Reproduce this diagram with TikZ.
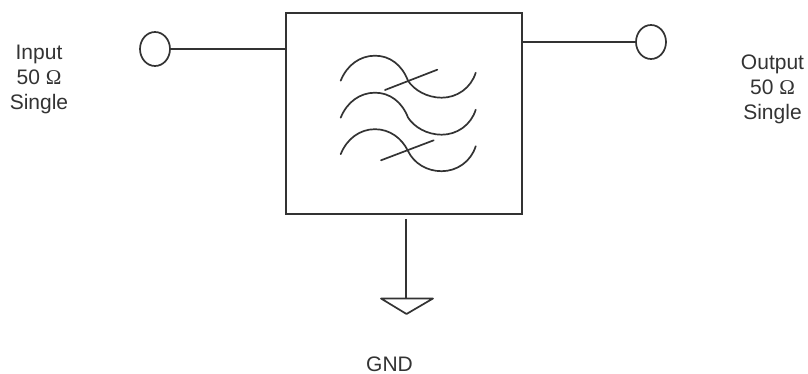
\documentclass[tikz,border=0pt]{standalone}
\usepackage{fontspec}
\setmainfont{Liberation Sans}
\newfontfamily\omegafont{Liberation Serif}
\usetikzlibrary{shapes.geometric}
\definecolor{ink}{HTML}{333333}
\tikzset{
  wire/.style={draw=ink,line width=1.7pt},
  port/.style={shape=ellipse,draw=ink,line width=1.7pt,minimum width=30pt,minimum height=34pt,inner sep=0pt},
  blockbox/.style={shape=rectangle,draw=ink,line width=1.7pt,minimum width=236pt,minimum height=201pt,inner sep=0pt},
  caption/.style={text=ink,align=center,font=\fontsize{21}{25}\selectfont,inner sep=0pt},
  wave/.style={draw=ink,line width=1.7pt,line cap=round}
}
\begin{document}
\begin{tikzpicture}[x=1pt,y=-1pt]
\useasboundingbox (0,0) rectangle (808,374);
\fill[white] (0,0) rectangle (808,374);
\node[blockbox] (filter) at (404,113.5) {};
\node[port] (in) at (155,49) {};
\node[port] (out) at (651,42) {};
\draw[wire] (in.east) -- (in.east -| filter.west);
\draw[wire] (out.west) -- (out.west -| filter.east);
\coordinate (gnd) at (406.3,298.5);
\draw[wire,shorten <=4pt] (filter.south -| gnd) -- (gnd);
\draw[wire,line join=round] (381,298.5) -- (433,298.5) -- (406.5,314) -- cycle;
\foreach \dy/\my in {0/80.7,37/117.5,73.5/151}{
  \draw[wave] (340.7,80.7+\dy) .. controls (347,65+\dy) and (360,55.7+\dy) .. (375,55.7+\dy)
    .. controls (390,55.7+\dy) and (402,65+\dy) .. (408,\my)
    .. controls (414,90+\dy) and (427,97.7+\dy) .. (441.7,97.7+\dy)
    .. controls (457,97.7+\dy) and (471,88+\dy) .. (475.7,72.7+\dy);
}
\draw[wave] (385,90) -- (437.3,69.7);
\draw[wave] (381,160.3) -- (433.7,140.3);
\node[caption] (inlabel) at (39,79.5) {Input\\50 {\omegafont Ω}\\Single};
\node[caption] (outlabel) at (772.5,89.5) {Output\\50 {\omegafont Ω}\\Single};
\node[caption] (gndlabel) at (389.5,364) {GND};
\end{tikzpicture}
\end{document}
